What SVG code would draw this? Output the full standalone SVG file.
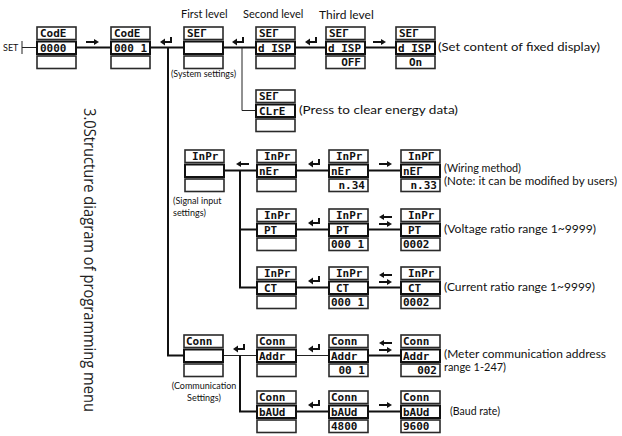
<svg xmlns="http://www.w3.org/2000/svg" xmlns:xlink="http://www.w3.org/1999/xlink" width="622" height="436" viewBox="0 0 622 436">
<style>
.bx{fill:#fff;stroke:#2a2a2a;stroke-width:1.6}
.bm{fill:#fff;stroke:#111;stroke-width:2}
.lcd{font-family:"DejaVu Sans Mono",monospace;font-weight:bold;font-size:11px;fill:#111}
.ln{stroke:#111;stroke-width:2;fill:none}
.lt{stroke:#222;stroke-width:1;fill:none}
.ann{font-family:Lato,"Open Sans",sans-serif;font-size:11px;fill:#111}
.sm{font-family:Lato,"Open Sans",sans-serif;font-size:9px;fill:#111}
.hd{font-family:Lato,"Open Sans",sans-serif;font-size:11px;fill:#111}
.ttl{font-family:"Open Sans",Lato,sans-serif;font-size:16px;fill:#222}
.r{text-anchor:end}
.c{text-anchor:middle}
.ar{fill:#111}
</style>
<defs>
<g id="node">
<rect class="bx" x="0" y="0" width="39" height="12.5"/>
<rect class="bm" x="0" y="14.5" width="39" height="12.5"/>
<rect class="bx" x="0" y="29" width="39" height="12.5"/>
</g>
<g id="rar"><path d="M0,0h9" class="ln"/><polygon class="ar" points="8,-3 13,0 8,3"/></g>
<g id="lar"><path d="M4,0h9" class="ln"/><polygon class="ar" points="5,-3 0,0 5,3"/></g>
<g id="ret"><path d="M4,0h8M11,1V-5" class="ln"/><polygon class="ar" points="5,-3.5 0,0 5,3.5"/></g>
</defs>

<text class="ttl" transform="translate(84,108) rotate(90)" textLength="304" lengthAdjust="spacingAndGlyphs">3.0Structure diagram of programming menu</text>

<g id="connectors">
<path class="lt" d="M22,41V54M22,47.5H37"/>
<path class="ln" d="M76,47.5H111M150,47.5H184M168,47.5V355.5H184M223,47.5H256M295,47.5H326M365,47.5H396"/>
<path class="lt" d="M242,47.5V110.5H256"/>
<path class="ln" d="M224,170.5H257M240,170.5V287.5H257M240,229.5H257M296,170.5H329M368,170.5H401M296,229.5H329M368,229.5H401M296,287.5H329M368,287.5H401"/>
<path class="lt" d="M223,355.5H257M296,355.5H329"/>
<path class="ln" d="M240,355.5V411.5H257M296,411.5H329M368,411.5H401M368,355.5H401"/>
<use xlink:href="#rar" x="86" y="42"/>
<use xlink:href="#ret" x="160" y="42"/>
<use xlink:href="#ret" x="232" y="42"/>
<use xlink:href="#ret" x="305" y="42"/>
<use xlink:href="#rar" x="373" y="42"/>
<use xlink:href="#lar" x="236" y="164"/>
<use xlink:href="#ret" x="308" y="164"/>
<use xlink:href="#rar" x="379" y="164"/>
<use xlink:href="#ret" x="308" y="223"/>
<use xlink:href="#lar" x="379" y="217"/>
<use xlink:href="#rar" x="379" y="224"/>
<use xlink:href="#ret" x="308" y="281"/>
<use xlink:href="#lar" x="379" y="275"/>
<use xlink:href="#rar" x="379" y="282"/>
<use xlink:href="#ret" x="233" y="349"/>
<use xlink:href="#ret" x="308" y="349"/>
<use xlink:href="#lar" x="379" y="343"/>
<use xlink:href="#rar" x="379" y="350"/>
<use xlink:href="#ret" x="308" y="405"/>
<use xlink:href="#rar" x="379" y="405"/>
</g>

<text class="sm" x="3" y="51">SET</text>
<text class="hd" x="181" y="18">First level</text>
<text class="hd" x="243" y="18">Second level</text>
<text class="hd" x="319" y="19" style="font-size:12px">Third level</text>

<g id="n-code0" transform="translate(37,27)"><use xlink:href="#node"/><text class="lcd" x="3" y="10.3">CodE</text><text class="lcd" x="3" y="24.5">0000</text></g>
<g id="n-code1" transform="translate(111,27)"><use xlink:href="#node"/><text class="lcd" x="3" y="10.3">CodE</text><text class="lcd" x="3" y="24.5">000 1</text></g>
<g id="n-set" transform="translate(184,27)"><use xlink:href="#node"/><text class="lcd" x="3" y="10.3">SEΓ</text></g>
<text class="sm" x="171" y="77" textLength="65" lengthAdjust="spacingAndGlyphs">(System settings)</text>
<g id="n-disp" transform="translate(256,27)"><use xlink:href="#node"/><text class="lcd" x="3" y="10.3">SEΓ</text><text class="lcd" x="2" y="24.5">d ISP</text></g>
<g id="n-off" transform="translate(326,27)"><use xlink:href="#node"/><text class="lcd" x="3" y="10.3">SEΓ</text><text class="lcd" x="2" y="24.5">d ISP</text><text class="lcd r" x="35" y="39">OFF</text></g>
<g id="n-on" transform="translate(396,27)"><use xlink:href="#node"/><text class="lcd" x="3" y="10.3">SEΓ</text><text class="lcd" x="2" y="24.5">d ISP</text><text class="lcd c" x="19.5" y="39">On</text></g>
<text class="ann" x="438" y="51" textLength="162" lengthAdjust="spacingAndGlyphs">(Set content of fixed display)</text>
<g id="n-clre" transform="translate(256,90)"><use xlink:href="#node"/><text class="lcd" x="3" y="10.3">SEΓ</text><text class="lcd" x="3" y="24.5">CLrE</text></g>
<text class="ann" x="299" y="114" textLength="159" lengthAdjust="spacingAndGlyphs">(Press  to clear energy data)</text>

<g id="n-inpr" transform="translate(185,150)"><use xlink:href="#node"/><text class="lcd" x="7" y="10.3">InPr</text></g>
<text class="sm" x="173" y="204">(Signal input</text>
<text class="sm" x="173" y="216">settings)</text>
<g id="n-ner" transform="translate(257,150)"><use xlink:href="#node"/><text class="lcd" x="7" y="10.3">InPr</text><text class="lcd" x="2" y="24.5">nEr</text></g>
<g id="n-n34" transform="translate(329,150)"><use xlink:href="#node"/><text class="lcd" x="7" y="10.3">InPr</text><text class="lcd" x="2" y="24.5">nEr</text><text class="lcd r" x="36" y="39">n.34</text></g>
<g id="n-n33" transform="translate(401,150)"><use xlink:href="#node"/><text class="lcd" x="7" y="10.3">InPΓ</text><text class="lcd" x="2" y="24.5">nEΓ</text><text class="lcd r" x="36" y="39">n.33</text></g>
<text class="ann" x="444" y="172" textLength="77" lengthAdjust="spacingAndGlyphs">(Wiring method)</text>
<text class="ann" x="444" y="185" textLength="173" lengthAdjust="spacingAndGlyphs">(Note: it can be modified by users)</text>

<g id="n-pt" transform="translate(257,209)"><use xlink:href="#node"/><text class="lcd" x="7" y="10.3">InPr</text><text class="lcd" x="7" y="24.5">PT</text></g>
<g id="n-pt1" transform="translate(329,209)"><use xlink:href="#node"/><text class="lcd" x="7" y="10.3">InPr</text><text class="lcd" x="7" y="24.5">PT</text><text class="lcd" x="2" y="39">000 1</text></g>
<g id="n-pt2" transform="translate(401,209)"><use xlink:href="#node"/><text class="lcd" x="7" y="10.3">InPr</text><text class="lcd" x="7" y="24.5">PT</text><text class="lcd" x="2" y="39">0002</text></g>
<text class="ann" x="444" y="233" textLength="152" lengthAdjust="spacingAndGlyphs">(Voltage ratio range 1~9999)</text>

<g id="n-ct" transform="translate(257,267)"><use xlink:href="#node"/><text class="lcd" x="7" y="10.3">InPr</text><text class="lcd" x="7" y="24.5">CT</text></g>
<g id="n-ct1" transform="translate(329,267)"><use xlink:href="#node"/><text class="lcd" x="7" y="10.3">InPr</text><text class="lcd" x="7" y="24.5">CT</text><text class="lcd" x="2" y="39">000 1</text></g>
<g id="n-ct2" transform="translate(401,267)"><use xlink:href="#node"/><text class="lcd" x="7" y="10.3">InPr</text><text class="lcd" x="7" y="24.5">CT</text><text class="lcd" x="2" y="39">0002</text></g>
<text class="ann" x="444" y="291" textLength="151" lengthAdjust="spacingAndGlyphs">(Current ratio range 1~9999)</text>

<g id="n-conn" transform="translate(184,335)"><use xlink:href="#node"/><text class="lcd" x="2" y="10.3">Conn</text></g>
<text class="sm c" x="204" y="389">(Communication</text>
<text class="sm c" x="204" y="401">Settings)</text>
<g id="n-addr" transform="translate(257,335)"><use xlink:href="#node"/><text class="lcd" x="2" y="10.3">Conn</text><text class="lcd" x="2" y="24.5">Addr</text></g>
<g id="n-addr1" transform="translate(329,335)"><use xlink:href="#node"/><text class="lcd" x="2" y="10.3">Conn</text><text class="lcd" x="2" y="24.5">Addr</text><text class="lcd r" x="36" y="39">00 1</text></g>
<g id="n-addr2" transform="translate(401,335)"><use xlink:href="#node"/><text class="lcd" x="2" y="10.3">Conn</text><text class="lcd" x="2" y="24.5">Addr</text><text class="lcd r" x="36" y="39">002</text></g>
<text class="ann" x="444" y="358" textLength="162" lengthAdjust="spacingAndGlyphs">(Meter communication address</text>
<text class="ann" x="444" y="371" textLength="62" lengthAdjust="spacingAndGlyphs">range 1-247)</text>

<g id="n-baud" transform="translate(257,391)"><use xlink:href="#node"/><text class="lcd" x="2" y="10.3">Conn</text><text class="lcd" x="2" y="24.5">bAUd</text></g>
<g id="n-baud1" transform="translate(329,391)"><use xlink:href="#node"/><text class="lcd" x="2" y="10.3">Conn</text><text class="lcd" x="2" y="24.5">bAUd</text><text class="lcd" x="2" y="39">4800</text></g>
<g id="n-baud2" transform="translate(401,391)"><use xlink:href="#node"/><text class="lcd" x="2" y="10.3">Conn</text><text class="lcd" x="2" y="24.5">bAUd</text><text class="lcd" x="2" y="39">9600</text></g>
<text class="ann" x="450" y="415" textLength="50" lengthAdjust="spacingAndGlyphs">(Baud rate)</text>
</svg>
